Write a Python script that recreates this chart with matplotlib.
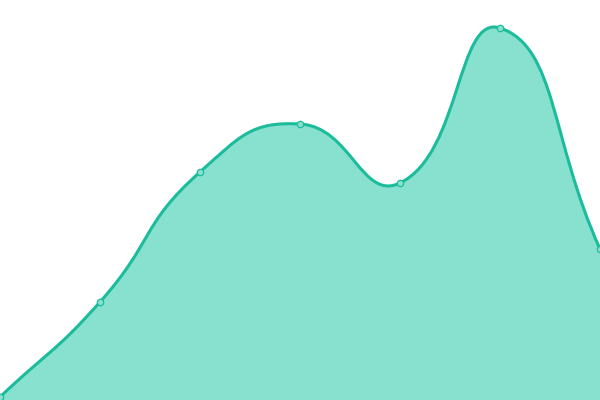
import numpy as np
import matplotlib
matplotlib.use("Agg")
import matplotlib.pyplot as plt
from matplotlib.path import Path
from matplotlib.patches import PathPatch

# ===== data =====
x_vals = [0, 1, 2, 3, 4, 5, 6]
y_vals = [3, 98, 228, 276, 217, 372, 151]

LINE_COLOR = "#1bbc9b"
FILL_COLOR = "#88e0cf"
SMOOTH = 0.5


def _smooth_path(xs, ys, smooth=SMOOTH):
    """折れ線をベジェ曲線で滑らかにする（隣接点から制御点を計算）"""
    pts = np.column_stack([xs, ys]).astype(float)
    n = len(pts)
    cps = []
    for i in range(n):
        prev = pts[i - 1] if i > 0 else pts[i]
        nxt = pts[i + 1] if i < n - 1 else pts[i]
        v = nxt - prev
        d0 = np.hypot(*(pts[i] - prev))
        d1 = np.hypot(*(nxt - pts[i]))
        ratio = d0 / (d0 + d1) if d0 + d1 > 0 else 0.5
        cps.append((pts[i] - v * smooth * ratio, pts[i] + v * smooth * (1 - ratio)))
    verts = [pts[0]]
    codes = [Path.MOVETO]
    for i in range(n - 1):
        verts += [cps[i][1], cps[i + 1][0], pts[i + 1]]
        codes += [Path.CURVE4] * 3
    return verts, codes


fig = plt.figure(figsize=(6, 4), dpi=100)
ax = fig.add_axes([0, 0, 1, 1])

# 描画スケール：x は点間隔 100px、y は 0..400
xs = np.array(x_vals) * 100.0
verts, codes = _smooth_path(xs, y_vals)

fill_verts = verts + [(xs[-1], 0), (xs[0], 0), verts[0]]
fill_codes = codes + [Path.LINETO, Path.LINETO, Path.CLOSEPOLY]
ax.add_patch(PathPatch(Path(fill_verts, fill_codes), facecolor=FILL_COLOR,
                       edgecolor="none", zorder=1))
ax.add_patch(PathPatch(Path(verts, codes), facecolor="none",
                       edgecolor=LINE_COLOR, lw=2.2, zorder=2))
ax.plot(xs, y_vals, "o", ms=4.6, mfc=FILL_COLOR, mec=LINE_COLOR, mew=0.9,
        zorder=3)

ax.set_xlim(0, 600)
ax.set_ylim(0, 400)
ax.axis("off")

fig.savefig("out.png", dpi=100)
